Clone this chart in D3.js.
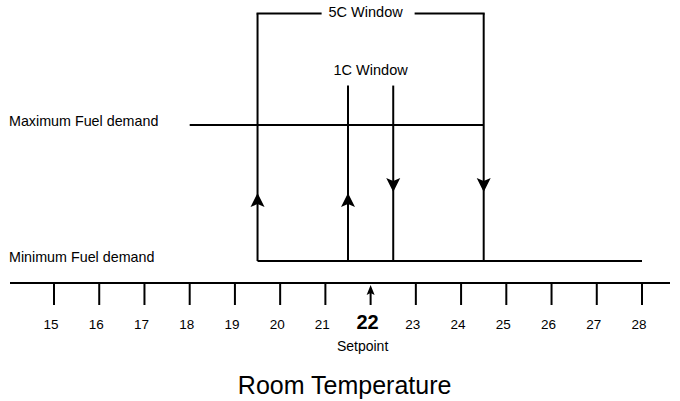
<!DOCTYPE html>
<html><head><meta charset="utf-8">
<script src="https://cdn.jsdelivr.net/npm/d3@7"></script>
<style>body{margin:0;background:#fff}svg{display:block}text{font-family:"Liberation Sans",Arial,sans-serif;fill:#000}</style>
</head><body>
<script>
const ticks = [15,16,17,18,19,20,21,22,23,24,25,26,27,28];
const setpoint = 22;
const demandLabels = ["Minimum Fuel demand","Maximum Fuel demand"];
const maxDemandRange = [18, 24.5];
const minDemandRange = [19.5, 28];
// switching points: up = switch to max demand, down = switch to min demand
const switchUp = [19.5, 21.5];
const switchDown = [22.5, 24.5];
const windows = [
  {label:"5C Window", from:19.5, to:24.5, level:1.82},
  {label:"1C Window", from:21.5, to:22.5, level:1.29}
];
const axisTitle = "Room Temperature";
const setpointLabel = "Setpoint";

const W=680,H=401;
const svg=d3.select("body").append("svg").attr("width",W).attr("height",H);
const x=d3.scaleLinear().domain([15,28]).range([54,642]);
const y=d3.scaleLinear().domain([0,1]).range([261,125]);
const g=svg.append("g").attr("stroke","#000").attr("stroke-width",2).attr("fill","none");

// axis
const axisY=283;
g.append("line").attr("x1",10).attr("x2",670).attr("y1",axisY).attr("y2",axisY);
ticks.forEach(t=>{
  if(t!==setpoint) g.append("line").attr("x1",x(t)).attr("x2",x(t)).attr("y1",axisY).attr("y2",axisY+22);
});
// setpoint arrow
g.append("line").attr("x1",x(setpoint)).attr("x2",x(setpoint)).attr("y1",axisY+22).attr("y2",axisY+8);
svg.append("path").attr("d",`M${x(setpoint)},${axisY+2}l-4,10l4,-2l4,2z`).attr("fill","#000");

svg.selectAll("text.tick").data(ticks).join("text").attr("class","tick")
  .attr("x",d=>x(d)-(d===setpoint?3:3)).attr("y",329)
  .attr("text-anchor","middle")
  .style("font-size",d=>d===setpoint?"20px":"13.5px")
  .style("font-weight",d=>d===setpoint?"bold":"normal")
  .text(d=>d);
svg.append("text").attr("x",x(setpoint)-8).attr("y",351).attr("text-anchor","middle").style("font-size","14px").text(setpointLabel);
svg.append("text").attr("x",x(setpoint)-26).attr("y",394).attr("text-anchor","middle").style("font-size","25px").text(axisTitle);

// demand labels
svg.selectAll("text.dl").data(demandLabels).join("text").attr("class","dl")
  .attr("x",9).attr("y",(d,i)=>y(i)+1).style("font-size","14.3px").text(d=>d);

// demand lines
g.append("line").attr("x1",x(maxDemandRange[0])).attr("x2",x(maxDemandRange[1])).attr("y1",y(1)).attr("y2",y(1));
g.append("line").attr("x1",x(minDemandRange[0])).attr("x2",x(minDemandRange[1])).attr("y1",y(0)).attr("y2",y(0));

// switching verticals with arrows
const midY=(y(0)+y(1))/2;
switchUp.forEach(t=>{
  g.append("line").attr("x1",x(t)).attr("x2",x(t)).attr("y1",y(0)).attr("y2",y(1));
  svg.append("path").attr("d",`M${x(t)},${midY}l-7,14l7,-3l7,3z`).attr("fill","#000");
});
switchDown.forEach(t=>{
  g.append("line").attr("x1",x(t)).attr("x2",x(t)).attr("y1",y(0)).attr("y2",y(1));
  svg.append("path").attr("d",`M${x(t)},${midY-1}l-7,-14l7,3l7,-3z`).attr("fill","#000");
});

// windows
windows.forEach(w=>{
  const top=y(w.level);
  const cx=(x(w.from)+x(w.to))/2;
  g.append("line").attr("x1",x(w.from)).attr("x2",x(w.from)).attr("y1",top).attr("y2",y(1));
  g.append("line").attr("x1",x(w.to)).attr("x2",x(w.to)).attr("y1",top).attr("y2",y(1));
  if(w.to-w.from>2){
    g.append("line").attr("x1",x(w.from)-1).attr("x2",cx-49).attr("y1",top).attr("y2",top);
    g.append("line").attr("x1",cx+44).attr("x2",x(w.to)+1).attr("y1",top).attr("y2",top);
    svg.append("text").attr("x",cx-5).attr("y",top+4).attr("text-anchor","middle").style("font-size","14.5px").text(w.label);
  } else {
    svg.append("text").attr("x",cx).attr("y",top-11).attr("text-anchor","middle").style("font-size","14.5px").text(w.label);
  }
});
</script>
</body></html>
